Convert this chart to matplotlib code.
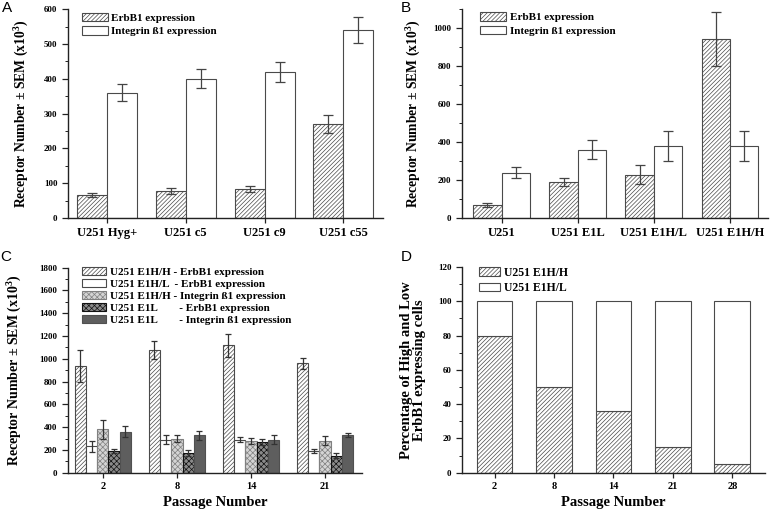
import numpy as np
import matplotlib
matplotlib.use('Agg')
import matplotlib.pyplot as plt
from matplotlib.ticker import MultipleLocator

plt.rcParams['font.family'] = 'Liberation Serif'
plt.rcParams['font.weight'] = 'bold'
plt.rcParams['mathtext.fontset'] = 'custom'
plt.rcParams['mathtext.rm'] = 'Liberation Serif:bold'
plt.rcParams['mathtext.bf'] = 'Liberation Serif:bold'
plt.rcParams['hatch.linewidth'] = 0.5
plt.rcParams['axes.linewidth'] = 1.0

# panel A
a_labels = ['U251 Hyg+', 'U251 c5', 'U251 c9', 'U251 c55']
a_erb = [65, 77, 83, 270]
a_erb_err = [6, 9, 9, 27]
a_int = [360, 400, 420, 540]
a_int_err = [25, 28, 28, 36]

# panel B
b_labels = ['U251', 'U251 E1L', 'U251 E1H/L', 'U251 E1H/H']
b_erb = [72, 190, 230, 940]
b_erb_err = [10, 20, 50, 142]
b_int = [240, 360, 380, 380]
b_int_err = [30, 50, 80, 80]

# panel C
c_passage = ['2', '8', '14', '21']
c_hh_erb = [940, 1080, 1120, 960]
c_hh_erb_err = [140, 80, 100, 50]
c_hl_erb = [230, 290, 290, 190]
c_hl_erb_err = [50, 40, 25, 15]
c_hh_int = [380, 300, 280, 280]
c_hh_int_err = [80, 30, 25, 40]
c_l_erb = [190, 170, 270, 150]
c_l_erb_err = [20, 25, 30, 20]
c_l_int = [360, 330, 290, 330]
c_l_int_err = [50, 40, 40, 20]

# panel D
d_passage = ['2', '8', '14', '21', '28']
d_hh = [80, 50, 36, 15, 5]
d_hl = [20, 50, 64, 85, 95]

EDGE = '#4a4a4a'
ERR = '#444444'
YLAB = 'Receptor Number \u00b1 SEM (x10$^{3}$)'

fig = plt.figure(figsize=(7.7, 5.12), dpi=100)
axA = fig.add_axes([0.0883, 0.5742, 0.409, 0.408])
axB = fig.add_axes([0.600, 0.5736, 0.397, 0.4088])
axC = fig.add_axes([0.0883, 0.0768, 0.382, 0.4004])
axD = fig.add_axes([0.600, 0.0768, 0.3935, 0.4018])


def style(ax, major, minor, ytick_fs=6.5, xtick_fs=9):
    ax.spines['top'].set_visible(False)
    ax.spines['right'].set_visible(False)
    for s in ['left', 'bottom']:
        ax.spines[s].set_color('#222222')
    ax.yaxis.set_major_locator(MultipleLocator(major))
    ax.yaxis.set_minor_locator(MultipleLocator(minor))
    ax.tick_params(axis='y', which='major', length=4, width=0.9, labelsize=ytick_fs, color='#222222')
    ax.tick_params(axis='y', which='minor', length=2, width=0.7, color='#222222')
    ax.tick_params(axis='x', which='major', length=3.5, width=0.9, labelsize=xtick_fs,
                   color='#222222', pad=3)
    for lab in ax.get_yticklabels() + ax.get_xticklabels():
        lab.set_fontweight('bold')


def bold_legend(ax, **kw):
    leg = ax.legend(loc='upper left', frameon=False, borderaxespad=0.1, **kw)
    for t in leg.get_texts():
        t.set_fontweight('bold')
    return leg


def pair_bars(ax, labels, erb, erb_err, intg, intg_err, w, anchor_x):
    x = np.arange(len(labels))
    ax.bar(x - w / 2, erb, w, yerr=erb_err, facecolor='white', edgecolor=EDGE,
           hatch='////////', linewidth=0.8, label='ErbB1 expression',
           error_kw=dict(ecolor=ERR, elinewidth=0.9, capsize=3.5, capthick=0.9))
    ax.bar(x + w / 2, intg, w, yerr=intg_err, facecolor='white', edgecolor=EDGE,
           linewidth=0.8, label='Integrin \u00df1 expression',
           error_kw=dict(ecolor=ERR, elinewidth=0.9, capsize=3.5, capthick=0.9))
    ax.set_xticks(x)
    ax.set_xticklabels(labels)
    bold_legend(ax, fontsize=8, handlelength=2.3, handleheight=0.75, handletextpad=0.35,
                labelspacing=0.35, bbox_to_anchor=(anchor_x, 1.01))


# A
pair_bars(axA, a_labels, a_erb, a_erb_err, a_int, a_int_err, 0.38, 0.027)
axA.set_xlim(-0.49, 3.5)
axA.set_ylim(0, 600)
style(axA, 100, 50)
axA.set_ylabel(YLAB, fontsize=9.8, fontweight='bold')
axA.yaxis.set_label_coords(-0.12, 0.5)

# B
pair_bars(axB, b_labels, b_erb, b_erb_err, b_int, b_int_err, 0.37, 0.041)
axB.set_xlim(-0.52, 3.5)
axB.set_ylim(0, 1100)
style(axB, 200, 100)
axB.set_ylabel(YLAB, fontsize=9.8, fontweight='bold')
axB.yaxis.set_label_coords(-0.13, 0.5)

# C
xc = np.arange(len(c_passage))
wc = 0.152
c_series = [
    (c_hh_erb, c_hh_erb_err, dict(facecolor='white', edgecolor=EDGE, hatch='////////'),
     'U251 E1H/H - ErbB1 expression'),
    (c_hl_erb, c_hl_erb_err, dict(facecolor='white', edgecolor=EDGE),
     'U251 E1H/L  - ErbB1 expression'),
    (c_hh_int, c_hh_int_err, dict(facecolor='#d4d4d4', edgecolor='#808080', hatch='xxxxxx'),
     'U251 E1H/H - Integrin \u00df1 expression'),
    (c_l_erb, c_l_erb_err, dict(facecolor='#8a8a8a', edgecolor='#111111', hatch='xxxxxx'),
     'U251 E1L        - ErbB1 expression'),
    (c_l_int, c_l_int_err, dict(facecolor='#5e5e5e', edgecolor='#505050'),
     'U251 E1L        - Integrin \u00df1 expression'),
]
for i, (vals, errs, kw, lab) in enumerate(c_series):
    axC.bar(xc + (i - 2) * wc, vals, wc, yerr=errs, linewidth=0.8, label=lab,
            error_kw=dict(ecolor='#333333', elinewidth=0.9, capsize=2.5, capthick=0.9), **kw)
axC.set_xticks(xc)
axC.set_xticklabels(c_passage)
axC.set_xlim(-0.47, 3.5)
axC.set_ylim(0, 1800)
style(axC, 200, 100, xtick_fs=7.5)
axC.set_ylabel(YLAB, fontsize=10, fontweight='bold')
axC.yaxis.set_label_coords(-0.153, 0.5)
axC.set_xlabel('Passage Number', fontsize=10.5, fontweight='bold')
axC.xaxis.set_label_coords(0.5, -0.115)
bold_legend(axC, fontsize=8, handlelength=2.15, handleheight=0.7, handletextpad=0.35,
            labelspacing=0.2, bbox_to_anchor=(0.029, 1.03))

# D
xd = np.arange(len(d_passage))
axD.bar(xd, d_hh, 0.6, facecolor='white', edgecolor=EDGE, hatch='////////',
        linewidth=0.8, label='U251 E1H/H')
axD.bar(xd, d_hl, 0.6, bottom=d_hh, facecolor='white', edgecolor=EDGE,
        linewidth=0.8, label='U251 E1H/L')
axD.set_xticks(xd)
axD.set_xticklabels(d_passage)
axD.set_xlim(-0.55, 4.55)
axD.set_ylim(0, 120)
style(axD, 20, 10, xtick_fs=7.5)
axD.set_ylabel('Percentage of High and Low\nErbB1 expressing cells', fontsize=10.5,
               fontweight='bold', linespacing=1.0)
axD.yaxis.set_label_coords(-0.12, 0.5)
axD.set_xlabel('Passage Number', fontsize=10.5, fontweight='bold')
axD.xaxis.set_label_coords(0.5, -0.115)
bold_legend(axD, fontsize=8.5, handlelength=1.8, handleheight=0.7, handletextpad=0.4,
            labelspacing=0.3, bbox_to_anchor=(0.035, 1.03))

# panel letters
for x, y, s in [(0.002, 0.998, 'A'), (0.52, 0.998, 'B'), (0.0, 0.512, 'C'), (0.52, 0.512, 'D')]:
    fig.text(x, y, s, fontsize=11, family='Liberation Sans', fontweight='normal',
             ha='left', va='top')

fig.savefig('out.png', dpi=100)
